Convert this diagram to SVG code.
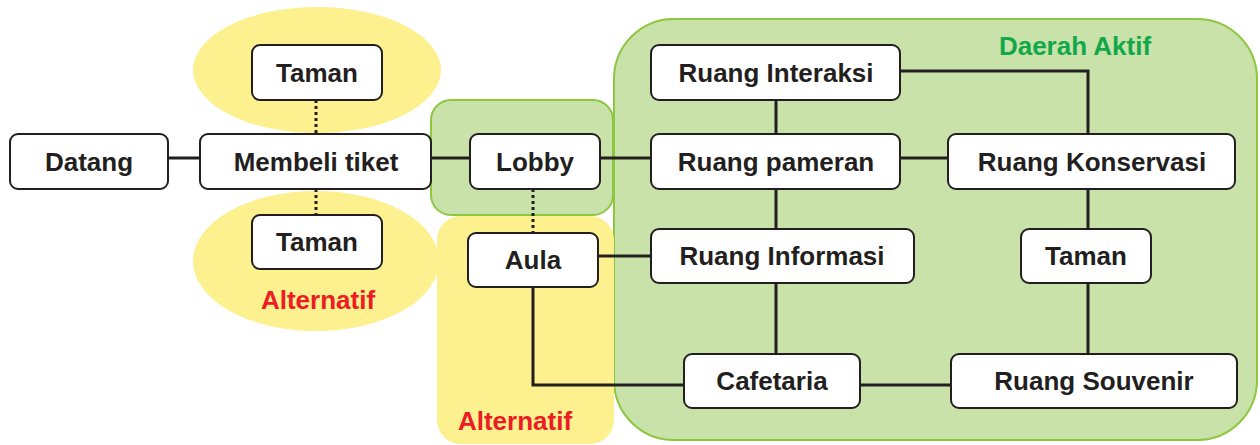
<svg xmlns="http://www.w3.org/2000/svg" width="1260" height="445" viewBox="0 0 1260 445">
  <style>
    .node rect { fill: #ffffff; stroke: #231f20; stroke-width: 2; }
    .node text { font-family: "Liberation Sans", Arial, sans-serif; font-weight: bold; font-size: 26px; fill: #231f20; text-anchor: middle; }
    .link { fill: none; stroke: #231f20; stroke-width: 3; }
    .dot { fill: none; stroke: #231f20; stroke-width: 3; stroke-dasharray: 3 3; }
    .zone-green { fill: #c9e2a9; stroke: #8dc63f; stroke-width: 2; }
    .zone-yellow { fill: #fcf08f; }
    .label { font-family: "Liberation Sans", Arial, sans-serif; font-weight: bold; font-size: 26px; text-anchor: middle; }
  </style>

  <!-- zones -->
  <g id="zones">
    <rect class="zone-green" x="614" y="19" width="643" height="421" rx="60"/>
    <rect class="zone-yellow" x="437" y="216" width="177" height="228" rx="24"/>
    <rect class="zone-green" x="431" y="100" width="182" height="115" rx="20"/>
    <ellipse class="zone-yellow" cx="317" cy="70" rx="124" ry="63"/>
    <ellipse class="zone-yellow" cx="316" cy="261" rx="123" ry="70"/>
    <text class="label" x="318" y="309" fill="#ed1c24">Alternatif</text>
    <text class="label" x="515" y="430" fill="#ed1c24">Alternatif</text>
    <text class="label" x="1075" y="55" fill="#12a84a">Daerah Aktif</text>
  </g>

  <!-- connectors -->
  <g id="connectors">
    <line class="link" x1="168" y1="158" x2="200" y2="158"/>
    <line class="link" x1="431" y1="158" x2="470" y2="158"/>
    <line class="link" x1="600" y1="158" x2="651" y2="158"/>
    <line class="link" x1="900" y1="158" x2="948" y2="158"/>
    <line class="dot" x1="316" y1="100" x2="316" y2="134"/>
    <line class="dot" x1="316" y1="189" x2="316" y2="215"/>
    <line class="dot" x1="533" y1="189" x2="533" y2="233"/>
    <line class="link" x1="776" y1="100" x2="776" y2="134"/>
    <line class="link" x1="776" y1="189" x2="776" y2="229"/>
    <line class="link" x1="776" y1="283" x2="776" y2="354"/>
    <polyline class="link" points="900,71 1088,71 1088,134"/>
    <line class="link" x1="1088" y1="189" x2="1088" y2="229"/>
    <line class="link" x1="1088" y1="283" x2="1088" y2="354"/>
    <line class="link" x1="598" y1="256" x2="651" y2="256"/>
    <polyline class="link" points="533,287 533,385 684,385"/>
    <line class="link" x1="860" y1="385" x2="951" y2="385"/>
  </g>

  <!-- nodes -->
  <g id="datang" class="node"><rect x="10" y="134" width="158" height="55" rx="8"/><text x="89" y="171">Datang</text></g>
  <g id="membeli-tiket" class="node"><rect x="200" y="134" width="231" height="55" rx="8"/><text x="316" y="171">Membeli tiket</text></g>
  <g id="taman-atas" class="node"><rect x="252" y="45" width="130" height="55" rx="8"/><text x="317" y="82">Taman</text></g>
  <g id="taman-bawah" class="node"><rect x="252" y="215" width="130" height="54" rx="8"/><text x="317" y="251">Taman</text></g>
  <g id="lobby" class="node"><rect x="470" y="134" width="130" height="55" rx="8"/><text x="535" y="171">Lobby</text></g>
  <g id="aula" class="node"><rect x="468" y="233" width="130" height="54" rx="8"/><text x="533" y="269">Aula</text></g>
  <g id="ruang-interaksi" class="node"><rect x="651" y="45" width="249" height="55" rx="8"/><text x="776" y="82">Ruang Interaksi</text></g>
  <g id="ruang-pameran" class="node"><rect x="651" y="134" width="249" height="55" rx="8"/><text x="776" y="171">Ruang pameran</text></g>
  <g id="ruang-konservasi" class="node"><rect x="948" y="134" width="287" height="55" rx="8"/><text x="1092" y="171">Ruang Konservasi</text></g>
  <g id="ruang-informasi" class="node"><rect x="651" y="229" width="263" height="54" rx="8"/><text x="782" y="265">Ruang Informasi</text></g>
  <g id="taman-kanan" class="node"><rect x="1021" y="229" width="130" height="54" rx="8"/><text x="1086" y="265">Taman</text></g>
  <g id="cafetaria" class="node"><rect x="684" y="354" width="176" height="54" rx="8"/><text x="772" y="390">Cafetaria</text></g>
  <g id="ruang-souvenir" class="node"><rect x="951" y="354" width="286" height="54" rx="8"/><text x="1094" y="390">Ruang Souvenir</text></g>
</svg>
